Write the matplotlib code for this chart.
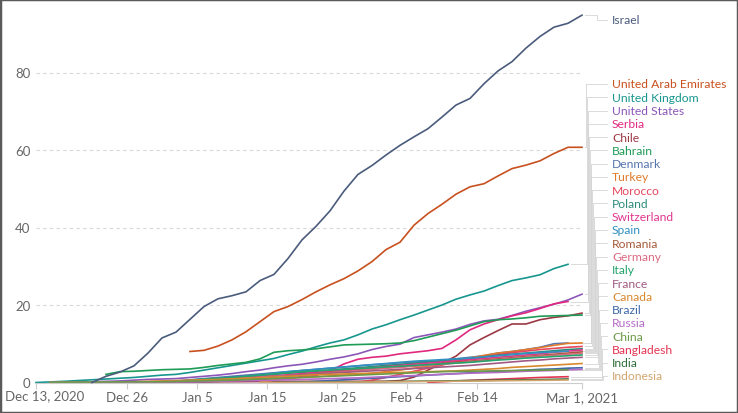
import numpy as np
import matplotlib
matplotlib.use('Agg')
import matplotlib.pyplot as plt

plt.rcParams['font.family'] = ['Lato', 'DejaVu Sans']

# days since Dec 13, 2020, every 2 days
days = np.arange(0, 79, 2)

# doses per 100 people (None = no data yet)
israel = [None]*4 + [0.0, 1.6, 2.7, 4.3, 7.6, 11.5, 13.0, 16.3, 19.6, 21.6, 22.4, 23.4, 26.3, 27.9, 32.0, 36.8,
                     40.3, 44.3, 49.4, 53.7, 56.0, 58.7, 61.2, 63.4, 65.5, 68.5, 71.6, 73.3, 77.1, 80.4, 82.8,
                     86.3, 89.3, 91.7, 92.7, 94.8]
uae = [None]*11 + [8.0, 8.3, 9.4, 11.0, 13.1, 15.7, 18.3, 19.6, 21.4, 23.4, 25.2, 26.8, 28.8, 31.2, 34.3, 36.2,
                   40.6, 43.6, 46.0, 48.6, 50.5, 51.3, 53.3, 55.2, 56.1, 57.2, 59.1, 60.7, 60.7]
uk = [0.0, 0.15, 0.3, 0.5, 0.7, 0.9, 1.1, 1.3, 1.6, 1.9, 2.1, 2.6, 3.2, 3.8, 4.4, 5.0, 5.6, 6.2, 7.2, 8.1, 9.2,
      10.2, 11.0, 12.3, 13.8, 14.9, 16.2, 17.4, 18.7, 20.0, 21.5, 22.6, 23.6, 25.0, 26.3, 27.0, 27.8, 29.4, 30.5]
us = [None] + [0.0, 0.05, 0.1, 0.2, 0.3, 0.4, 0.6, 0.8, 0.9, 1.0, 1.3, 1.6, 1.9, 2.3, 2.8, 3.2, 3.8, 4.3, 4.7,
               5.3, 6.0, 6.6, 7.4, 8.5, 9.3, 9.9, 11.6, 12.3, 13.0, 13.8, 15.0, 15.9, 16.3, 17.3, 18.4, 19.3,
               20.2, 21.3, 22.8]
serbia = [None]*6 + [0.0, 0.02, 0.05, 0.1, 0.15, 0.2, 0.3, 0.4, 0.5, 0.6, 0.8, 1.0, 1.2, 1.5, 1.8, 3.0, 4.8,
                     6.0, 6.5, 6.8, 7.4, 7.8, 8.2, 8.8, 11.0, 13.6, 15.1, 16.2, 17.2, 18.0, 19.1, 20.3, 20.9]
chile = [None]*6 + [0.0, 0.02, 0.05, 0.08, 0.1, 0.12, 0.15, 0.18, 0.2, 0.22, 0.25, 0.28, 0.3, 0.3, 0.3, 0.3,
                    0.3, 0.3, 0.3, 0.3, 0.5, 1.4, 3.2, 5.0, 6.8, 9.7, 11.6, 13.4, 15.1, 15.1, 16.2, 16.8, 17.2, 17.9]
bahrain = [None]*5 + [2.1, 2.8, 2.9, 3.1, 3.3, 3.4, 3.5, 3.9, 4.4, 4.8, 5.2, 6.1, 7.8, 8.2, 8.4, 8.7, 9.2, 9.7,
                      9.8, 9.9, 10.0, 10.2, 10.8, 11.7, 12.6, 13.5, 14.6, 15.7, 16.2, 16.4, 16.7, 17.1, 17.2,
                      17.3, 17.4]
denmark = [None]*7 + [0.0, 0.1, 0.2, 0.4, 0.7, 1.0, 1.3, 1.6, 1.9, 2.2, 2.5, 2.8, 3.1, 3.4, 3.7, 4.0, 4.3, 4.6,
                      4.8, 5.1, 5.3, 5.4, 5.6, 6.1, 6.5, 6.9, 7.6, 8.0, 8.5, 9.1, 10.0, 10.2]
turkey = [None]*16 + [0.1, 0.6, 1.0, 1.3, 1.5, 1.7, 1.9, 2.1, 2.4, 2.8, 3.2, 3.7, 4.2, 4.8, 5.5, 6.3, 7.0, 7.6,
                      8.0, 8.5, 9.0, 9.6, 10.1, 10.2]
morocco = [None]*23 + [0.1, 0.6, 1.3, 2.1, 2.9, 3.7, 4.5, 5.3, 6.0, 6.6, 7.2, 7.7, 8.1, 8.5, 8.8, 9.1, 9.3]
poland = [None]*7 + [0.0, 0.05, 0.15, 0.3, 0.5, 0.7, 0.9, 1.2, 1.5, 1.8, 2.1, 2.4, 2.6, 2.9, 3.2, 3.5, 3.8,
                     4.1, 4.4, 4.7, 5.0, 5.3, 5.6, 5.9, 6.2, 6.6, 7.0, 7.3, 7.6, 7.9, 8.2, 8.5, 8.7]
switzerland = [None]*5 + [0.0, 0.05, 0.1, 0.2, 0.3, 0.4, 0.5, 0.7, 0.9, 1.1, 1.3, 1.5, 1.7, 2.0, 2.3, 2.6, 2.9,
                          3.2, 3.5, 3.8, 4.1, 4.4, 4.7, 5.0, 5.3, 5.6, 5.9, 6.2, 6.5, 6.8, 7.1, 7.4, 7.8, 8.1, 8.4]
spain = [None]*7 + [0.0, 0.05, 0.1, 0.2, 0.4, 0.6, 0.9, 1.2, 1.6, 2.0, 2.4, 2.8, 3.1, 3.4, 3.7, 4.0, 4.3, 4.6,
                    4.9, 5.2, 5.5, 5.7, 5.9, 6.1, 6.3, 6.6, 6.9, 7.2, 7.5, 7.7, 7.9, 8.1]
romania = [None]*7 + [0.0, 0.03, 0.1, 0.2, 0.4, 0.6, 0.8, 1.0, 1.2, 1.4, 1.6, 1.8, 2.0, 2.3, 2.6, 2.9, 3.2,
                      3.5, 3.8, 4.1, 4.3, 4.6, 4.9, 5.2, 5.5, 5.8, 6.1, 6.4, 6.7, 7.0, 7.3, 7.6, 7.9]
germany = [None]*7 + [0.0, 0.1, 0.2, 0.3, 0.5, 0.7, 0.9, 1.0, 1.2, 1.4, 1.6, 1.8, 2.0, 2.2, 2.5, 2.8, 3.1,
                      3.4, 3.7, 3.9, 4.2, 4.4, 4.7, 5.0, 5.3, 5.6, 5.9, 6.2, 6.5, 6.8, 7.0, 7.3, 7.5]
italy = [None]*7 + [0.0, 0.01, 0.1, 0.3, 0.6, 0.9, 1.1, 1.3, 1.6, 1.9, 2.2, 2.5, 2.8, 3.0, 3.2, 3.4, 3.6, 3.8,
                    4.0, 4.2, 4.4, 4.6, 4.8, 5.0, 5.2, 5.5, 5.8, 6.0, 6.3, 6.5, 6.7, 6.9, 7.1]
france = [None]*7 + [0.0, 0.0, 0.01, 0.02, 0.05, 0.1, 0.3, 0.5, 0.8, 1.1, 1.4, 1.7, 2.0, 2.2, 2.4, 2.6, 2.8,
                     3.0, 3.2, 3.4, 3.6, 3.8, 4.0, 4.2, 4.4, 4.7, 5.0, 5.3, 5.6, 5.8, 6.1, 6.3, 6.5]
canada = [None] + [0.0, 0.01, 0.02, 0.05, 0.1, 0.15, 0.2, 0.3, 0.4, 0.5, 0.6, 0.7, 0.8, 0.95, 1.1, 1.2, 1.4,
                   1.6, 1.8, 2.0, 2.1, 2.2, 2.3, 2.4, 2.5, 2.6, 2.7, 2.8, 2.9, 3.0, 3.2, 3.4, 3.6, 3.9, 4.1, 4.3,
                   4.5, 4.7, 4.9]
brazil = [None]*18 + [0.0, 0.1, 0.3, 0.5, 0.7, 0.9, 1.1, 1.3, 1.5, 1.7, 1.9, 2.1, 2.3, 2.5, 2.7, 2.9, 3.0, 3.2,
                      3.4, 3.5, 3.7, 3.8]
russia = [None] + [0.0, 0.02, 0.04, 0.06, 0.08, 0.1, 0.12, 0.15, 0.18, 0.2, 0.25, 0.3, 0.35, 0.4, 0.45, 0.5,
                   0.6, 0.7, 0.8, 0.9, 1.0, 1.1, 1.2, 1.35, 1.5, 1.65, 1.8, 1.95, 2.1, 2.25, 2.4, 2.5, 2.6, 2.75,
                   2.9, 3.0, 3.1, 3.25, 3.4]
china = ([None, 0.07] + [None]*7 + [0.2] + [None]*4 + [0.6] + [None]*6 + [1.6] + [None]*7 + [2.8]
         + [None]*8 + [3.3])
bangladesh = [None]*28 + [0.01, 0.2, 0.4, 0.55, 0.7, 0.85, 1.0, 1.15, 1.3, 1.4, 1.5]
india = [None]*17 + [0.01, 0.03, 0.05, 0.08, 0.1, 0.13, 0.16, 0.2, 0.24, 0.28, 0.32, 0.36, 0.4, 0.45, 0.5,
                     0.55, 0.6, 0.65, 0.7, 0.75, 0.82, 0.9]
indonesia = [None]*16 + [0.0, 0.01, 0.02, 0.03, 0.05, 0.07, 0.09, 0.12, 0.15, 0.18, 0.21, 0.24, 0.27, 0.3,
                         0.33, 0.36, 0.4, 0.44, 0.48, 0.52, 0.56, 0.6, 0.65]

countries = ['Israel', 'United Arab Emirates', 'United Kingdom', 'United States', 'Serbia', 'Chile', 'Bahrain',
             'Denmark', 'Turkey', 'Morocco', 'Poland', 'Switzerland', 'Spain', 'Romania', 'Germany', 'Italy',
             'France', 'Canada', 'Brazil', 'Russia', 'China', 'Bangladesh', 'India', 'Indonesia']
series = [israel, uae, uk, us, serbia, chile, bahrain, denmark, turkey, morocco, poland, switzerland, spain,
          romania, germany, italy, france, canada, brazil, russia, china, bangladesh, india, indonesia]
colors = ['#4a5b7c', '#c8501e', '#17968f', '#8c56b8', '#e0287f', '#9c3844', '#1e9b56', '#5675b0', '#e07b2c',
          '#e5475c', '#2a8c7c', '#e0358f', '#3090c0', '#a55a3a', '#db6a82', '#25a46e', '#a05a82', '#d8882e',
          '#3f68a8', '#b46cc6', '#6c9a48', '#e33452', '#2f6e38', '#d3a56e']

tick_days = [0, 13, 23, 33, 43, 53, 63, 78]
tick_labels = ['Dec 13, 2020', 'Dec 26', 'Jan 5', 'Jan 15', 'Jan 25', 'Feb 4', 'Feb 14', 'Mar 1, 2021']
y_ticks = [0, 20, 40, 60, 80]

# pixel layout helpers (axes spans x 36..582 px, y 383.5..0 px)
W, H = 738, 414
X0, X1, Y0 = 36, 582, 383.5
ppd = (X1 - X0) / 78.0
ppv = 3.875


def px2x(px):
    return (px - X0) / ppd


def px2y(py):
    return (Y0 - py) / ppv


fig = plt.figure(figsize=(W / 100, H / 100), dpi=100)
ax = fig.add_axes([X0 / W, (H - Y0) / H, (X1 - X0) / W, Y0 / H])
ax.set_xlim(0, 78)
ax.set_ylim(0, Y0 / ppv)

for v in y_ticks[1:]:
    ax.axhline(v, color='#d8d8d8', lw=0.8, dashes=(3, 3), zorder=0)

grey = '#cccccc'
label_py = [21] + [85 + 13.27 * i for i in range(23)]

for i, (name, s, c) in enumerate(zip(countries, series, colors)):
    vals = np.array([np.nan if v is None else v for v in s], dtype=float)
    d = days[:len(vals)]
    m = ~np.isnan(vals)
    ax.plot(d[m], vals[m], color=c, lw=1.2, clip_on=False, zorder=3 if i == 0 else 2)

    # leader line from the line end to the label
    ex = X0 + ppd * d[m][-1] + 3
    ey = Y0 - ppv * vals[m][-1]
    ly = label_py[i]
    kx = 597 if i == 0 else 586 + (i - 1) * 0.78
    xs = [ex, kx, kx, 607]
    ys = [ey, ey, ly, ly]
    ax.plot([px2x(p) for p in xs], [px2y(p) for p in ys], color='#d4d4d4', lw=0.6, clip_on=False, zorder=1)
    ax.text(px2x(612), px2y(ly), name, color=c, fontsize=8.7, ha='left', va='center', clip_on=False)

for side in ['top', 'right', 'left']:
    ax.spines[side].set_visible(False)
ax.spines['bottom'].set_color(grey)
ax.spines['bottom'].set_linewidth(0.8)

ax.set_yticks(y_ticks)
ax.set_yticklabels([str(v) for v in y_ticks])
ax.tick_params(axis='y', length=0, pad=4, labelsize=9.5, labelcolor='#666666')

ax.set_xticks(tick_days)
ax.set_xticklabels([''] + tick_labels[1:])
ax.tick_params(axis='x', length=4, width=0.8, color=grey, pad=2, labelsize=9.5, labelcolor='#666666')
ax.text(px2x(5), px2y(390.3), tick_labels[0], fontsize=9.5, color='#666666', ha='left', va='top',
        clip_on=False)

fig.add_artist(plt.Rectangle((0, 0), 1, 1, transform=fig.transFigure, fill=False,
                             edgecolor='#5a5a5a', lw=2.5))

fig.savefig('out.png', dpi=100)
